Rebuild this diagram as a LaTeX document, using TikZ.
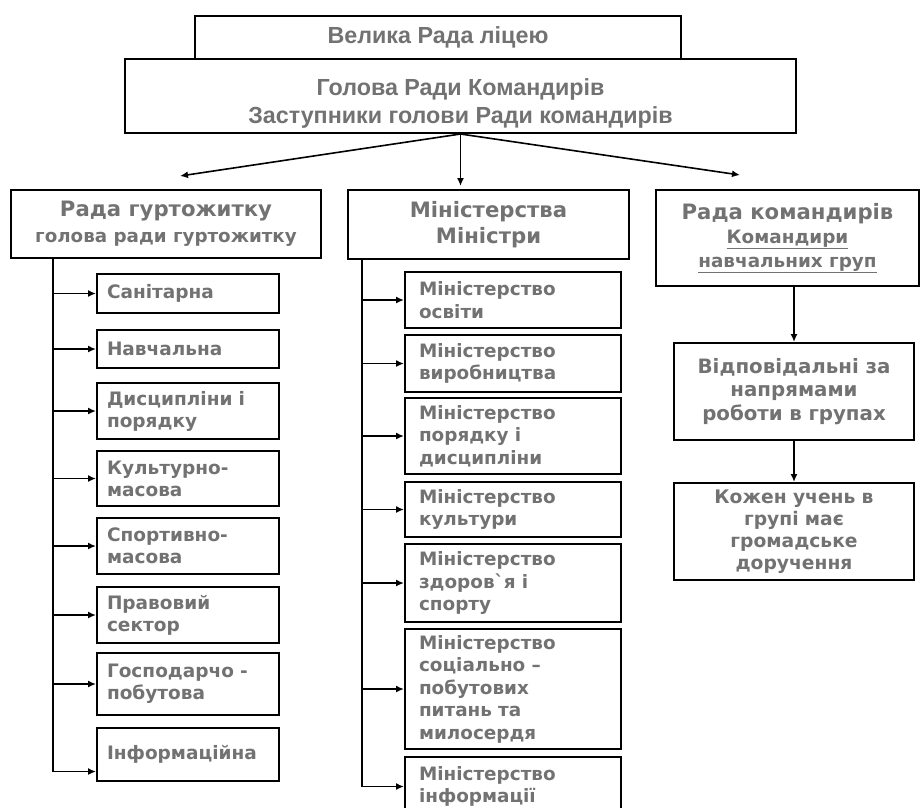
\documentclass[tikz,border=0pt]{standalone}
\usepackage{fontspec}
\setmainfont{DejaVu Sans}[Ligatures=TeXOff]
\newfontfamily\arialfont{Liberation Sans}
\usepackage{tikz}
\usetikzlibrary{shapes.geometric, arrows, arrows.meta}
\definecolor{txtgray}{HTML}{727272}
\tikzstyle{arrow} = [line width=1.6pt,->,>={Latex[length=8pt,width=7pt]}]
\tikzstyle{box} = [draw, line width=2pt, anchor=north west, inner sep=0pt, text=txtgray]
\tikzstyle{topbox} = [box, align=center, font=\arialfont\bfseries\fontsize{23.3}{27.5}\selectfont]
\tikzstyle{headbox} = [box, align=center, font=\bfseries\fontsize{21.2}{26}\selectfont]
\tikzstyle{leftbox} = [box, align=left, inner xsep=10pt, text width=162pt, font=\bfseries\fontsize{18.5}{22}\selectfont]
\tikzstyle{minbox} = [box, align=left, inner xsep=14pt, text width=188pt, font=\bfseries\fontsize{18.4}{22.5}\selectfont]
\tikzstyle{rightbox} = [box, align=center, text width=240pt, font=\bfseries\fontsize{19.8}{23.5}\selectfont]

\begin{document}
\begin{tikzpicture}[x=1pt,y=-1pt]
	\useasboundingbox (0,0) rectangle (920,807);
	\clip (0,0) rectangle (920,807);

	% Top of the structure:
	\node[topbox, minimum width=486pt, minimum height=43pt] (velrada) at (194,15) {Велика Рада ліцею};
	\node[topbox, minimum width=671pt, minimum height=74pt] (holova) at (124,58) {\rule{0pt}{32pt}Голова Ради Командирів\\Заступники голови Ради командирів};

	% The three branches:
	\node[headbox, minimum width=310pt, minimum height=68pt] (rgur) at (10,189) {Рада гуртожитку\\{\fontsize{18.3}{24}\selectfont голова ради гуртожитку}};
	\node[headbox, minimum width=281pt, minimum height=69pt] (mins) at (347,189) {Міністерства\\Міністри};
	\node[headbox, minimum width=263pt, minimum height=96pt] (rkom) at (655,189) {Рада командирів\\[-2pt]{\fontsize{18.4}{25}\selectfont\underline{Командири}}\\[-2pt]{\fontsize{18.4}{25}\selectfont\underline{навчальних груп}}};

	\coordinate (lend) at (180,176);
	\coordinate (rend) at (740,175);
	\draw[arrow] (holova.south) -- (lend);
	\draw[arrow] (holova.south) -- ([yshift=3pt]holova.south |- mins.north);
	\draw[arrow] (holova.south) -- (rend);

	% Left column: sectors of the dormitory council
	\node[leftbox, minimum height=39pt] (s1) at (96,273) {Санітарна};
	\node[leftbox, minimum height=38pt] (s2) at (96,329) {Навчальна};
	\node[leftbox, minimum height=56pt] (s3) at (96,382) {Дисципліни і\\порядку};
	\node[leftbox, minimum height=55pt] (s4) at (96,450) {Культурно-\\масова};
	\node[leftbox, minimum height=56pt] (s5) at (96,517) {Спортивно-\\масова};
	\node[leftbox, minimum height=56pt] (s6) at (96,586) {Правовий\\сектор};
	\node[leftbox, minimum height=62pt] (s7) at (96,652) {Господарчо -\\побутова};
	\node[leftbox, minimum height=53pt] (s8) at (96,727) {Інформаційна};

	\coordinate (ltop) at (53,257);
	\draw[arrow] (ltop) |- ([yshift=-17pt]s8.west);
	\foreach \n in {s1,s2,s3,s4,s5,s6,s7}{%
		\draw[arrow] (ltop |- \n.west) -- (\n.west);
	}

	% Middle column: ministries
	\node[minbox, minimum height=56pt] (m1) at (404,271) {Міністерство\\освіти};
	\node[minbox, minimum height=57pt] (m2) at (404,334) {Міністерство\\виробництва};
	\node[minbox, minimum height=76pt] (m3) at (404,397) {Міністерство\\порядку і\\дисципліни};
	\node[minbox, minimum height=55pt] (m4) at (404,481) {Міністерство\\культури};
	\node[minbox, minimum height=78pt] (m5) at (404,543) {Міністерство\\здоров`я і\\спорту};
	\node[minbox, minimum height=120pt] (m6) at (404,628) {Міністерство\\соціально –\\побутових\\питань та\\милосердя};
	\node[minbox, minimum height=59pt] (m7) at (404,756) {Міністерство\\інформації};

	\coordinate (mtop) at (362,258);
	\draw[arrow] (mtop) |- (m7.west);
	\foreach \n in {m1,m2,m3,m4,m5,m6}{%
		\draw[arrow] (mtop |- \n.west) -- (\n.west);
	}

	% Right column
	\node[rightbox, minimum height=97pt] (vidp) at (673,342) {Відповідальні за\\напрямами\\роботи в групах};
	\node[rightbox, minimum height=97pt, font=\bfseries\fontsize{18.7}{22}\selectfont] (uchen) at (673,482) {Кожен учень в\\групі має\\громадське\\доручення};
	\draw[arrow] (vidp.north |- rkom.south) -- (vidp.north);
	\draw[arrow] (vidp.south) -- (uchen.north);
\end{tikzpicture}
\end{document}
